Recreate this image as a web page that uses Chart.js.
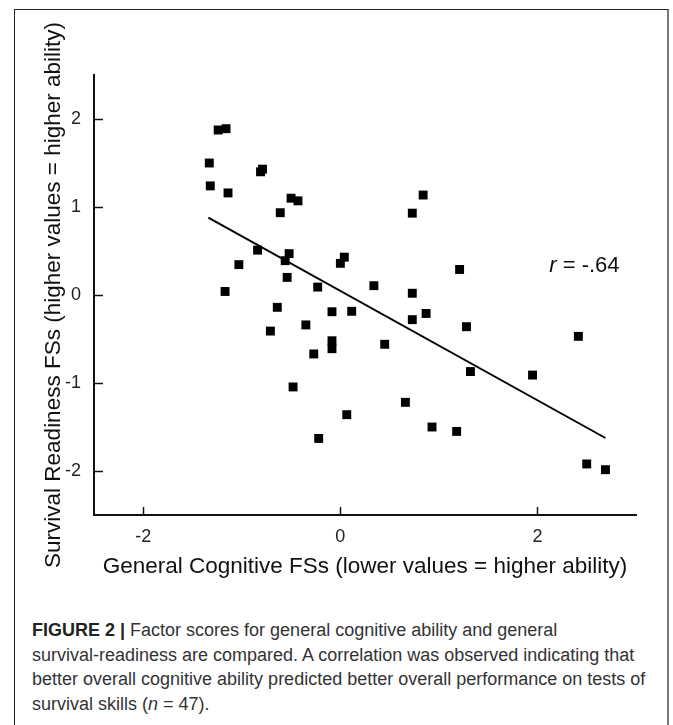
<!DOCTYPE html>
<html>
<head>
<meta charset="utf-8">
<script src="https://cdn.jsdelivr.net/npm/chart.js@4.4.1/dist/chart.umd.min.js"></script>
<style>
    html, body { margin: 0; padding: 0; background: #fff; }
    body { width: 673px; height: 725px; position: relative; overflow: hidden; font-family: "Liberation Sans", Arial, sans-serif; }
    .frame {
        position: absolute; left: 14px; top: 9px; width: 655px; height: 740px;
        border: 1.5px solid #222; border-right: 2px solid #777; box-sizing: border-box;
    }
    #chart { position: absolute; left: 0; top: 0; }
    .caption {
        position: absolute; left: 32px; top: 618px;
        font-size: 18px; line-height: 24.5px; color: #333; white-space: nowrap;
    }
    .caption b { color: #222; }
</style>
</head>
<body>
<div class="frame"></div>
<canvas id="chart" width="673" height="600"></canvas>
<div class="caption">
    <b>FIGURE 2 |</b> Factor scores for general cognitive ability and general<br>
    survival-readiness are compared. A correlation was observed indicating that<br>
    better overall cognitive ability predicted better overall performance on tests of<br>
    survival skills (<i>n</i> = 47).
</div>
<script>
// ====== Data ======
const cognitiveFS = [
    -1.24, -1.16, -1.33, -1.32, -1.14, -0.81, -0.79, -0.61, -0.50, -0.43,
    -0.84, -1.03, -0.52, -0.56, -0.54, 0.00, 0.04, 0.84, 0.73, 1.21,
    -1.17, -0.23, -0.64, -0.085, 0.115, -0.71, -0.35, -0.085, -0.085, -0.27,
    -0.48, 0.065, -0.22, 0.34, 0.73, 0.87, 0.73, 1.28, 0.45, 2.415,
    1.32, 1.95, 0.66, 0.93, 1.18, 2.50, 2.69
];
const survivalFS = [
    1.875, 1.89, 1.50, 1.24, 1.16, 1.40, 1.43, 0.935, 1.10, 1.07,
    0.51, 0.345, 0.47, 0.39, 0.20, 0.36, 0.43, 1.136, 0.93, 0.29,
    0.04, 0.09, -0.14, -0.19, -0.185, -0.41, -0.34, -0.52, -0.61, -0.67,
    -1.045, -1.36, -1.63, 0.106, 0.02, -0.21, -0.28, -0.36, -0.56, -0.47,
    -0.87, -0.91, -1.22, -1.50, -1.55, -1.92, -1.985
];
// regression line end points
const fitX = [-1.34, 2.69];
const fitY = [0.88, -1.625];

const xTickValues = [-2, 0, 2];
const yTickValues = [-2, -1, 0, 1, 2];

const xTitle = 'General Cognitive FSs (lower values = higher ability)';
const yTitle = 'Survival Readiness FSs (higher values = higher ability)';
const rLabel = { x: 2.12, y: 0.33, value: '-.64' };

// ====== Plot box ======
const AREA = { left: 94, right: 636, top: 75, bottom: 515 };
const CANVAS_W = 673, CANVAS_H = 600;
const INK = '#111';
const FONT = '"Liberation Sans", Arial, sans-serif';

// inward tick marks + r annotation
const extrasPlugin = {
    id: 'extras',
    afterDraw(chart) {
        const { ctx, scales: { x, y } } = chart;
        const area = chart.chartArea;
        ctx.save();
        ctx.strokeStyle = INK;
        ctx.lineWidth = 1.5;
        ctx.beginPath();
        xTickValues.forEach(v => {
            const px = Math.round(x.getPixelForValue(v)) + 0.5;
            ctx.moveTo(px, area.bottom);
            ctx.lineTo(px, area.bottom - 8);
        });
        yTickValues.forEach(v => {
            const py = Math.round(y.getPixelForValue(v)) + 0.5;
            ctx.moveTo(area.left, py);
            ctx.lineTo(area.left + 9, py);
        });
        ctx.stroke();

        // r = -.64
        const lx = x.getPixelForValue(rLabel.x);
        const ly = y.getPixelForValue(rLabel.y);
        ctx.fillStyle = INK;
        ctx.textBaseline = 'middle';
        ctx.textAlign = 'left';
        ctx.font = 'italic 22px ' + FONT;
        ctx.fillText('r', lx, ly);
        const w = ctx.measureText('r').width;
        ctx.font = '22px ' + FONT;
        ctx.fillText(' = ' + rLabel.value, lx + w, ly);
        ctx.restore();
    }
};

const ctx = document.getElementById('chart').getContext('2d');
new Chart(ctx, {
    type: 'scatter',
    data: {
        datasets: [
            {
                label: 'participants',
                data: cognitiveFS.map((v, i) => ({ x: v, y: survivalFS[i] })),
                backgroundColor: '#000',
                borderWidth: 0,
                pointStyle: 'rect',
                pointRadius: 6.3,
                pointHoverRadius: 6.3
            },
            {
                type: 'line',
                label: 'fit',
                data: fitX.map((v, i) => ({ x: v, y: fitY[i] })),
                borderColor: '#000',
                borderWidth: 2,
                pointRadius: 0,
                fill: false
            }
        ]
    },
    options: {
        responsive: false,
        animation: false,
        devicePixelRatio: 1,
        layout: { padding: { left: 0, top: AREA.top, right: CANVAS_W - AREA.right, bottom: 0 } },
        plugins: { legend: { display: false }, tooltip: { enabled: false } },
        scales: {
            x: {
                type: 'linear', min: -2.5, max: 3,
                afterFit: s => { s.height = CANVAS_H - AREA.bottom; },
                afterBuildTicks: s => { s.ticks = xTickValues.map(v => ({ value: v })); },
                grid: { display: false, drawTicks: false },
                border: { display: true, color: INK, width: 2 },
                ticks: { color: '#222', padding: 11, maxRotation: 0, minRotation: 0, font: { family: FONT, size: 18 } },
                title: {
                    display: true, text: xTitle, color: INK,
                    padding: { top: 0, bottom: 20 },
                    font: { family: FONT, size: 22.5 }
                }
            },
            y: {
                type: 'linear', min: -2.5, max: 2.5,
                afterFit: s => { s.width = AREA.left; },
                afterBuildTicks: s => { s.ticks = yTickValues.map(v => ({ value: v })); },
                grid: { display: false, drawTicks: false },
                border: { display: true, color: INK, width: 2 },
                ticks: { color: '#222', padding: 13, maxRotation: 0, minRotation: 0, font: { family: FONT, size: 18 } },
                title: {
                    display: true, text: yTitle, color: INK,
                    padding: { top: 40, bottom: 0 },
                    font: { family: FONT, size: 22.5 }
                }
            }
        }
    },
    plugins: [extrasPlugin]
});
</script>
</body>
</html>
